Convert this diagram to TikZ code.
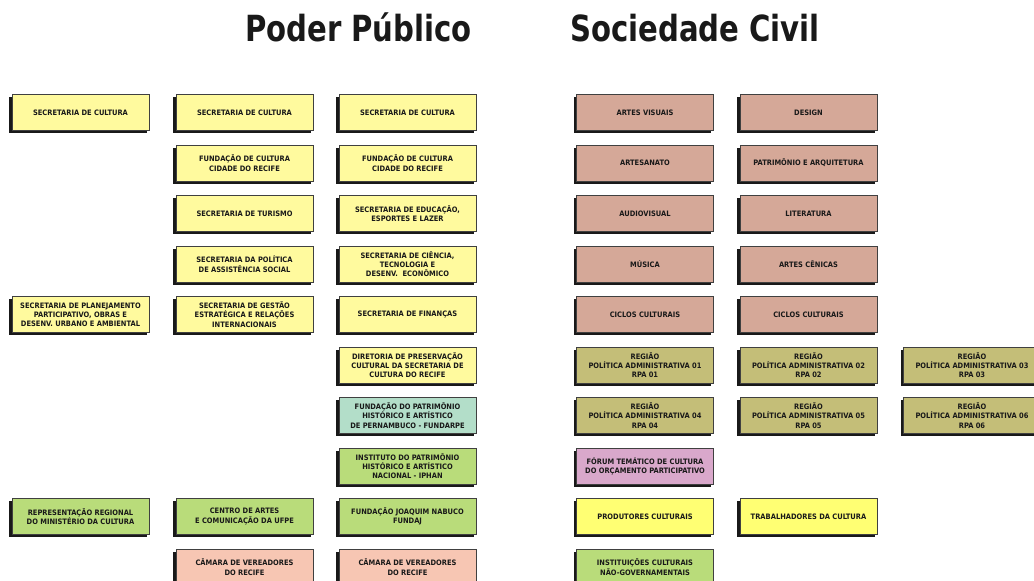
\documentclass[tikz,border=0pt]{standalone}
\usepackage{fontspec}
\setmainfont{DejaVu Sans Condensed}
\usetikzlibrary{positioning, shadows}

\definecolor{paleyellow}{HTML}{FFFA9E}
\definecolor{brightyellow}{HTML}{FFFF73}
\definecolor{leafgreen}{HTML}{B9DC7A}
\definecolor{seagreen}{HTML}{B3DEC9}
\definecolor{salmon}{HTML}{F7C6B3}
\definecolor{rosy}{HTML}{D5A898}
\definecolor{olive}{HTML}{C4BE78}
\definecolor{orchid}{HTML}{D9A8CB}

\begin{document}
\begin{tikzpicture}[x=0.75pt, y=-0.75pt,
		box/.style={draw=black!75, line width=0.4pt, rectangle, minimum width=103pt, minimum height=27pt, inner sep=1pt, align=center,
			font=\fontsize{5.6}{6.9}\selectfont\bfseries, text=black!90,
			drop shadow={shadow xshift=-1.9pt, shadow yshift=-1.9pt, fill=black!90, opacity=1}},
		title/.style={anchor=base, font=\fontsize{27}{30}\selectfont\bfseries, text=black!90}]
		\useasboundingbox (0, 0) rectangle (1034, 581);
		\node[title] (poder) at (358.5, 42) {\scalebox{0.9}[1]{Poder Público}};
		\node[title] (socied) at (695, 42) {\scalebox{0.9}[1]{Sociedade Civil}};
		% poder publico, first column
		\node[box, fill=paleyellow] (sc1) at (80.5, 112.5) {SECRETARIA DE CULTURA};
		\node[box, fill=paleyellow] (planej) at (80.5, 314.5) {SECRETARIA DE PLANEJAMENTO\\PARTICIPATIVO, OBRAS E\\DESENV. URBANO E AMBIENTAL};
		\node[box, fill=leafgreen] (minc) at (80.5, 516.5) {REPRESENTAÇÃO REGIONAL\\DO MINISTÉRIO DA CULTURA};
		% second column
		\node[box, fill=paleyellow] (sc2) at (244.5, 112.5) {SECRETARIA DE CULTURA};
		\node[box, fill=paleyellow] (fccr2) at (244.5, 163) {FUNDAÇÃO DE CULTURA\\CIDADE DO RECIFE};
		\node[box, fill=paleyellow] (turismo) at (244.5, 213.5) {SECRETARIA DE TURISMO};
		\node[box, fill=paleyellow] (assist) at (244.5, 264) {SECRETARIA DA POLÍTICA\\DE ASSISTÊNCIA SOCIAL};
		\node[box, fill=paleyellow] (gestao) at (244.5, 314.5) {SECRETARIA DE GESTÃO\\ESTRATÉGICA E RELAÇÕES\\INTERNACIONAIS};
		\node[box, fill=leafgreen] (ufpe) at (244.5, 516.5) {CENTRO DE ARTES\\E COMUNICAÇÃO DA UFPE};
		\node[box, fill=salmon] (camara2) at (244.5, 567) {CÂMARA DE VEREADORES\\DO RECIFE};
		% third column
		\node[box, fill=paleyellow] (sc3) at (407.5, 112.5) {SECRETARIA DE CULTURA};
		\node[box, fill=paleyellow] (fccr3) at (407.5, 163) {FUNDAÇÃO DE CULTURA\\CIDADE DO RECIFE};
		\node[box, fill=paleyellow] (educ) at (407.5, 213.5) {SECRETARIA DE EDUCAÇÃO,\\ESPORTES E LAZER};
		\node[box, fill=paleyellow] (ciencia) at (407.5, 264) {SECRETARIA DE CIÊNCIA,\\TECNOLOGIA E\\DESENV.\ \ ECONÔMICO};
		\node[box, fill=paleyellow] (financ) at (407.5, 314.5) {SECRETARIA DE FINANÇAS};
		\node[box, fill=paleyellow] (dppc) at (407.5, 365) {DIRETORIA DE PRESERVAÇÃO\\CULTURAL DA SECRETARIA DE\\CULTURA DO RECIFE};
		\node[box, fill=seagreen] (fundarpe) at (407.5, 415.5) {FUNDAÇÃO DO PATRIMÔNIO\\HISTÓRICO E ARTÍSTICO\\DE PERNAMBUCO - FUNDARPE};
		\node[box, fill=leafgreen] (iphan) at (407.5, 466) {INSTITUTO DO PATRIMÔNIO\\HISTÓRICO E ARTÍSTICO\\NACIONAL - IPHAN};
		\node[box, fill=leafgreen] (fundaj) at (407.5, 516.5) {FUNDAÇÃO JOAQUIM NABUCO\\FUNDAJ};
		\node[box, fill=salmon] (camara3) at (407.5, 567) {CÂMARA DE VEREADORES\\DO RECIFE};
		% sociedade civil
		\node[box, fill=rosy] (visuais) at (645, 112.5) {ARTES VISUAIS};
		\node[box, fill=rosy] (artesan) at (645, 163) {ARTESANATO};
		\node[box, fill=rosy] (audiov) at (645, 213.5) {AUDIOVISUAL};
		\node[box, fill=rosy] (musica) at (645, 264) {MÚSICA};
		\node[box, fill=rosy] (ciclosA) at (645, 314.5) {CICLOS CULTURAIS};
		\node[box, fill=olive] (rpa1) at (645, 365) {REGIÃO\\POLÍTICA ADMINISTRATIVA 01\\RPA 01};
		\node[box, fill=olive] (rpa4) at (645, 415.5) {REGIÃO\\POLÍTICA ADMINISTRATIVA 04\\RPA 04};
		\node[box, fill=orchid] (forum) at (645, 466) {FÓRUM TEMÁTICO DE CULTURA\\DO ORÇAMENTO PARTICIPATIVO};
		\node[box, fill=brightyellow] (produt) at (645, 516.5) {PRODUTORES CULTURAIS};
		\node[box, fill=leafgreen] (ongs) at (645, 567) {INSTITUIÇÕES CULTURAIS\\NÃO-GOVERNAMENTAIS};
		\node[box, fill=rosy] (design) at (808.5, 112.5) {DESIGN};
		\node[box, fill=rosy] (patrim) at (808.5, 163) {PATRIMÔNIO E ARQUITETURA};
		\node[box, fill=rosy] (literat) at (808.5, 213.5) {LITERATURA};
		\node[box, fill=rosy] (cenicas) at (808.5, 264) {ARTES CÊNICAS};
		\node[box, fill=rosy] (ciclosB) at (808.5, 314.5) {CICLOS CULTURAIS};
		\node[box, fill=olive] (rpa2) at (808.5, 365) {REGIÃO\\POLÍTICA ADMINISTRATIVA 02\\RPA 02};
		\node[box, fill=olive] (rpa5) at (808.5, 415.5) {REGIÃO\\POLÍTICA ADMINISTRATIVA 05\\RPA 05};
		\node[box, fill=brightyellow] (trabal) at (808.5, 516.5) {TRABALHADORES DA CULTURA};
		\node[box, fill=olive] (rpa3) at (972, 365) {REGIÃO\\POLÍTICA ADMINISTRATIVA 03\\RPA 03};
		\node[box, fill=olive] (rpa6) at (972, 415.5) {REGIÃO\\POLÍTICA ADMINISTRATIVA 06\\RPA 06};
	\end{tikzpicture}
\end{document}
